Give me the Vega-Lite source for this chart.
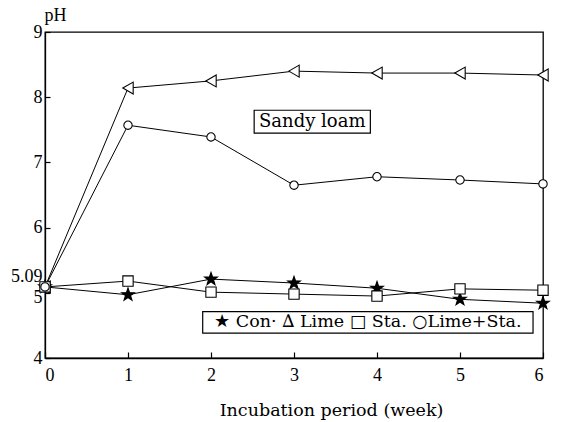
{
  "$schema": "https://vega.github.io/schema/vega-lite/v6.json",
  "autosize": "none",
  "width": 498,
  "height": 326,
  "padding": {"left": 45, "top": 32, "right": 20, "bottom": 64},
  "background": "white",
  "config": {
    "view": {"stroke": "black", "strokeWidth": 1.3},
    "axis": {"grid": false, "domainColor": "black", "domainWidth": 1.3, "tickColor": "black", "labelColor": "black", "titleColor": "black", "labelFont": "Liberation Serif", "titleFont": "DejaVu Serif", "titleFontWeight": "normal"}
  },
  "data": {
    "values": [
      {"kind": "data", "series": "Con", "week": 0, "pH": 5.09},
      {"kind": "data", "series": "Con", "week": 1, "pH": 4.97},
      {"kind": "data", "series": "Con", "week": 2, "pH": 5.21},
      {"kind": "data", "series": "Con", "week": 3, "pH": 5.15},
      {"kind": "data", "series": "Con", "week": 4, "pH": 5.07},
      {"kind": "data", "series": "Con", "week": 5, "pH": 4.90},
      {"kind": "data", "series": "Con", "week": 6, "pH": 4.84},
      {"kind": "data", "series": "Lime", "week": 0, "pH": 5.09},
      {"kind": "data", "series": "Lime", "week": 1, "pH": 8.14},
      {"kind": "data", "series": "Lime", "week": 2, "pH": 8.25},
      {"kind": "data", "series": "Lime", "week": 3, "pH": 8.40},
      {"kind": "data", "series": "Lime", "week": 4, "pH": 8.37},
      {"kind": "data", "series": "Lime", "week": 5, "pH": 8.37},
      {"kind": "data", "series": "Lime", "week": 6, "pH": 8.34},
      {"kind": "data", "series": "Sta", "week": 0, "pH": 5.09},
      {"kind": "data", "series": "Sta", "week": 1, "pH": 5.18},
      {"kind": "data", "series": "Sta", "week": 2, "pH": 5.01},
      {"kind": "data", "series": "Sta", "week": 3, "pH": 4.98},
      {"kind": "data", "series": "Sta", "week": 4, "pH": 4.95},
      {"kind": "data", "series": "Sta", "week": 5, "pH": 5.06},
      {"kind": "data", "series": "Sta", "week": 6, "pH": 5.04},
      {"kind": "data", "series": "Lime+Sta", "week": 0, "pH": 5.09},
      {"kind": "data", "series": "Lime+Sta", "week": 1, "pH": 7.57},
      {"kind": "data", "series": "Lime+Sta", "week": 2, "pH": 7.39},
      {"kind": "data", "series": "Lime+Sta", "week": 3, "pH": 6.65},
      {"kind": "data", "series": "Lime+Sta", "week": 4, "pH": 6.78},
      {"kind": "data", "series": "Lime+Sta", "week": 5, "pH": 6.73},
      {"kind": "data", "series": "Lime+Sta", "week": 6, "pH": 6.67},
      {"kind": "note", "week": 2.52, "week2": 3.92, "pH": 7.80, "pH2": 7.45, "label": "Sandy loam", "size": 18},
      {"kind": "note", "week": 1.90, "week2": 5.88, "pH": 4.71, "pH2": 4.38, "label": "★ Con· ∆ Lime □ Sta. ○Lime+Sta.", "size": 17.5}
    ]
  },
  "encoding": {
    "x": {"field": "week", "type": "quantitative", "scale": {"domain": [0, 6], "nice": false, "zero": false},
      "axis": {"values": [0, 1, 2, 3, 4, 5, 6], "title": "Incubation period (week)", "labelFontSize": 18, "labelPadding": 14, "tickSize": -6, "tickWidth": 1.2,
        "titleFontSize": 17.5, "titleX": 286, "titleY": 52, "titleAlign": "center", "titleBaseline": "middle", "titleAnchor": "start"}},
    "y": {"field": "pH", "type": "quantitative", "scale": {"domain": [4, 9], "nice": false, "zero": false},
      "axis": {"values": [4, 5, 5.09, 6, 7, 8, 9], "labelOverlap": false, "labelFontSize": 18, "labelPadding": 8, "tickSize": -5, "tickWidth": 1.2,
        "labelExpr": "datum.value == 5.09 ? '5.09' : format(datum.value, 'd')",
        "labelOffset": {"condition": [{"test": "datum.value == 5.09", "value": -10}, {"test": "datum.value == 5", "value": 5}], "value": 0},
        "tickOpacity": {"condition": {"test": "datum.value == 5.09", "value": 0}, "value": 1},
        "title": "pH", "titleFont": "Liberation Serif", "titleAngle": 0, "titleFontSize": 18, "titleX": 10, "titleY": -17, "titleAlign": "center", "titleBaseline": "middle"}}
  },
  "layer": [
    {
      "transform": [{"filter": "datum.kind == 'data'"}],
      "mark": {"type": "line", "color": "black", "strokeWidth": 1},
      "encoding": {"detail": {"field": "series"}}
    },
    {
      "transform": [{"filter": "datum.kind == 'data'"}],
      "mark": {"type": "point", "stroke": "black", "strokeWidth": 1.1, "opacity": 1, "filled": false},
      "encoding": {
        "shape": {"field": "series", "type": "nominal", "legend": null,
          "scale": {"domain": ["Con", "Lime", "Sta", "Lime+Sta"],
            "range": ["M0,-1L0.235,-0.324L0.951,-0.309L0.38,0.124L0.588,0.809L0,0.4L-0.588,0.809L-0.38,0.124L-0.951,-0.309L-0.235,-0.324Z", "triangle-left", "square", "circle"]}},
        "fill": {"field": "series", "type": "nominal", "legend": null,
          "scale": {"domain": ["Con", "Lime", "Sta", "Lime+Sta"], "range": ["black", "white", "white", "white"]}},
        "size": {"field": "series", "type": "nominal", "legend": null,
          "scale": {"domain": ["Con", "Lime", "Sta", "Lime+Sta"], "range": [180, 70, 60, 55]}}
      }
    },
    {
      "transform": [{"filter": "datum.kind == 'note'"}],
      "mark": {"type": "rect", "fill": "white", "stroke": "black", "strokeWidth": 1.2},
      "encoding": {"x2": {"field": "week2"}, "y2": {"field": "pH2"}}
    },
    {
      "transform": [{"filter": "datum.kind == 'note'"}, {"calculate": "(datum.week + datum.week2) / 2", "as": "cx"}, {"calculate": "(datum.pH + datum.pH2) / 2", "as": "cy"}],
      "mark": {"type": "text", "font": "DejaVu Serif", "color": "black", "align": "center", "baseline": "middle"},
      "encoding": {
        "x": {"field": "cx", "type": "quantitative"},
        "y": {"field": "cy", "type": "quantitative"},
        "text": {"field": "label"},
        "size": {"field": "size", "type": "quantitative", "scale": null}
      }
    }
  ]
}
